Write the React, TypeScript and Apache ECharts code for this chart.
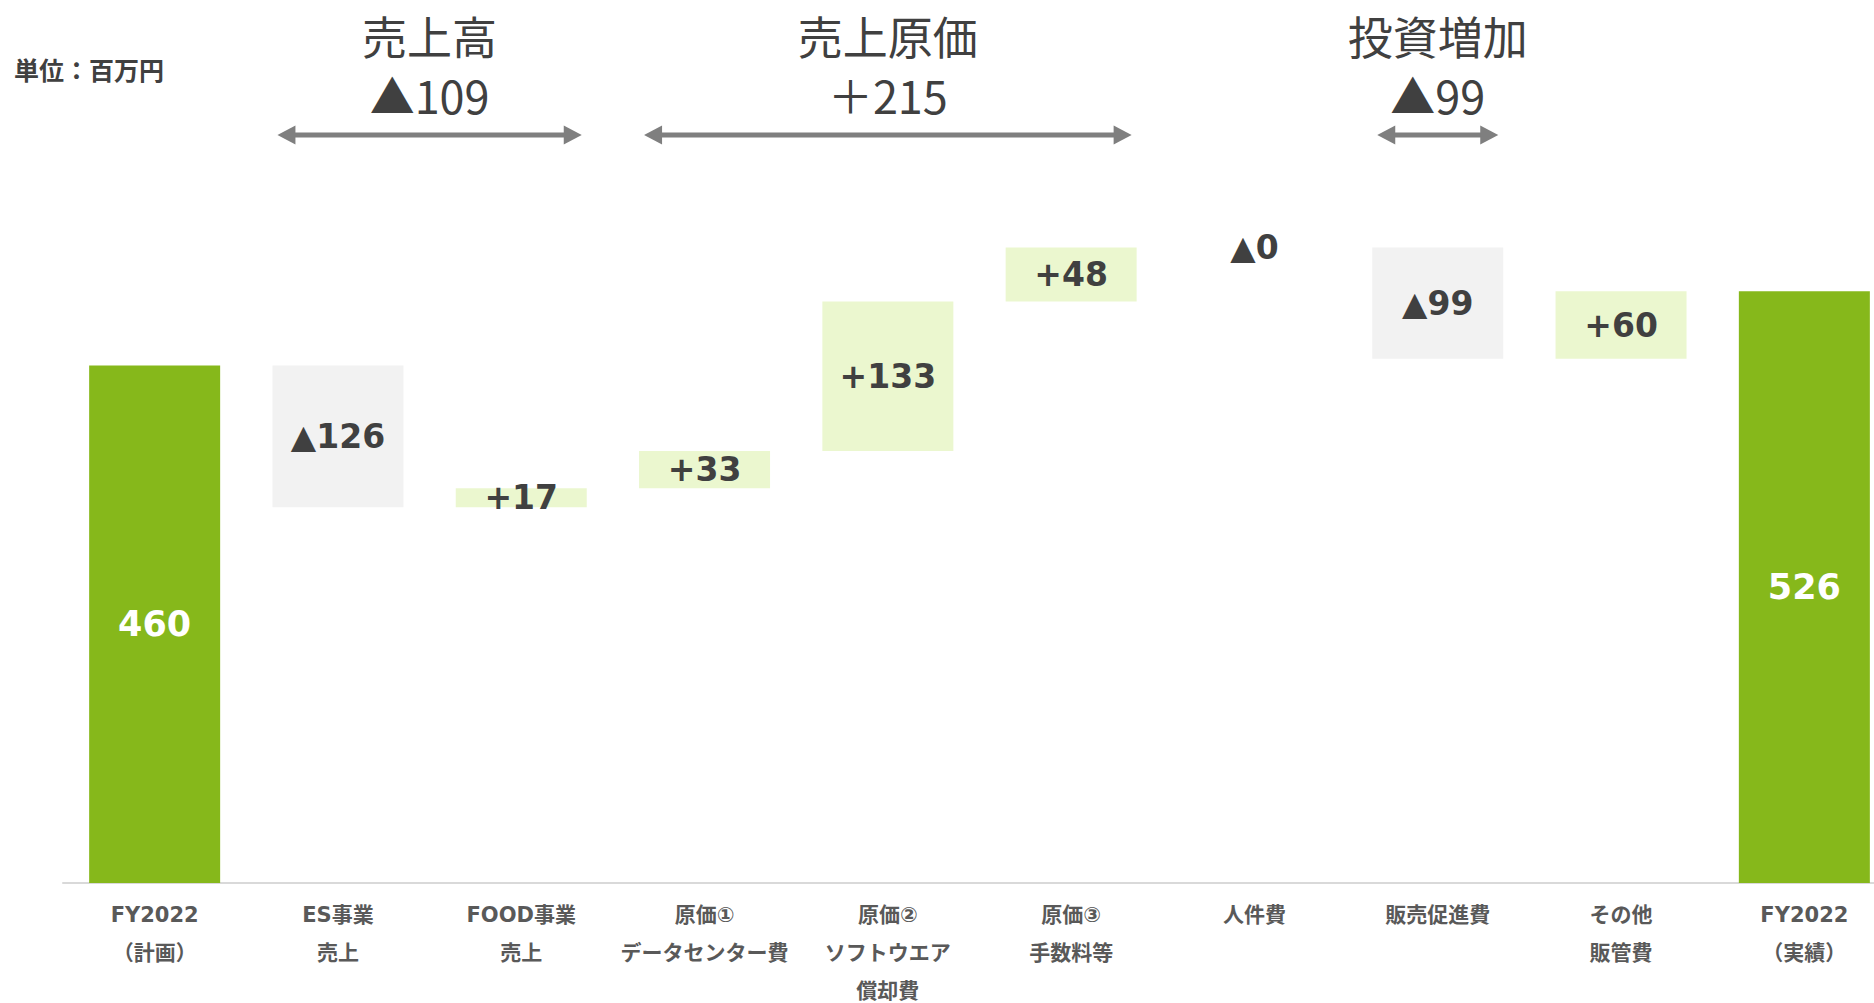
import React, { useEffect, useRef } from "react";
import * as echarts from "echarts";

const categories = [
  "FY2022\n（計画）",
  "ES事業\n売上",
  "FOOD事業\n売上",
  "原価①\nデータセンター費",
  "原価②\nソフトウエア\n償却費",
  "原価③\n手数料等",
  "人件費",
  "販売促進費",
  "その他\n販管費",
  "FY2022\n（実績）",
];
// change per step; totals are full values
const values = [460, -126, 17, 33, 133, 48, 0, -99, 60, 526];
const isTotal = [true, false, false, false, false, false, false, false, false, true];

const groupTitles = ["売上高", "売上原価", "投資増加"];
const groupValues = ["▲109", "＋215", "▲99"];
const groupFrom = [1, 3, 7];
const groupTo = [2, 5, 7];

const GREEN = "#86B81B";
const PALE = "#EBF7CF";
const GREY = "#F2F2F2";
const TEXT = "#404040";
const BAR_W = 131;

export default function App() {
  const ref = useRef<HTMLDivElement>(null);
  useEffect(() => {
    if (!ref.current) return;
    const chart = echarts.init(ref.current, undefined, { renderer: "svg" });

    const base: number[] = [];
    const heights: any[] = [];
    let running = 0;
    values.forEach((v, i) => {
      if (isTotal[i]) {
        base.push(0);
        running = v;
        heights.push({
          value: v,
          itemStyle: { color: GREEN },
          label: { formatter: String(v), color: "#FFFFFF", fontSize: 35 },
        });
        return;
      }
      let label: string;
      let color: string;
      if (v > 0) {
        base.push(running);
        running += v;
        label = "+" + v;
        color = PALE;
      } else {
        running += v;
        base.push(running);
        label = "▲" + Math.abs(v);
        color = GREY;
      }
      heights.push({ value: Math.abs(v), itemStyle: { color }, label: { formatter: label, color: TEXT } });
    });

    chart.setOption({
      animation: false,
      grid: { left: 63, right: 0, top: 208, bottom: 120, outerBoundsMode: "none", containLabel: false },
      xAxis: {
        type: "category",
        data: categories,
        axisLine: { show: true, lineStyle: { color: "#D9D9D9", width: 2 } },
        axisTick: { show: false },
        axisLabel: {
          interval: 0,
          margin: 13,
          color: "#595959",
          fontSize: 21,
          fontWeight: "bold",
          lineHeight: 38,
          fontFamily: "'DejaVu Sans', 'Noto Sans CJK JP', sans-serif",
          verticalAlign: "top",
        },
      },
      yAxis: {
        type: "value",
        min: 0,
        max: 600,
        show: false,
        splitLine: { show: false },
      },
      series: [
        {
          type: "bar",
          stack: "wf",
          data: base,
          barWidth: BAR_W,
          itemStyle: { color: "transparent" },
          silent: true,
        },
        {
          type: "bar",
          stack: "wf",
          data: heights,
          barWidth: BAR_W,
          label: {
            show: true,
            position: "inside",
            fontSize: 33,
            fontWeight: "bold",
            fontFamily: "'DejaVu Sans', 'Noto Sans CJK JP', sans-serif",
          },
        },
      ],
    });

    const graphics: any[] = [
      {
        type: "text",
        left: 14,
        top: 56,
        style: {
          text: "単位：百万円",
          fontSize: 25,
          fontWeight: "bold",
          fill: TEXT,
          fontFamily: "'Noto Sans CJK JP', sans-serif",
        },
      },
    ];
    const arrowY = 135;
    const head = 18;
    const half = 9.5;
    groupTitles.forEach((t, g) => {
      const c1 = chart.convertToPixel({ xAxisIndex: 0 }, groupFrom[g]) as number;
      const c2 = chart.convertToPixel({ xAxisIndex: 0 }, groupTo[g]) as number;
      const x1 = c1 - BAR_W / 2 + 5;
      const x2 = c2 + BAR_W / 2 - 5;
      const cx = (x1 + x2) / 2;
      graphics.push(
        {
          type: "line",
          shape: { x1: x1 + head - 2, y1: arrowY, x2: x2 - head + 2, y2: arrowY },
          style: { stroke: "#7F7F7F", lineWidth: 5 },
        },
        {
          type: "polygon",
          shape: { points: [[x1, arrowY], [x1 + head, arrowY - half], [x1 + head, arrowY + half]] },
          style: { fill: "#7F7F7F" },
        },
        {
          type: "polygon",
          shape: { points: [[x2, arrowY], [x2 - head, arrowY - half], [x2 - head, arrowY + half]] },
          style: { fill: "#7F7F7F" },
        },
        {
          type: "text",
          x: cx,
          y: 35,
          style: {
            text: t,
            fontSize: 45,
            fill: TEXT,
            align: "center",
            verticalAlign: "middle",
            fontFamily: "'Noto Sans CJK JP', sans-serif",
          },
        },
        {
          type: "text",
          x: cx,
          y: 94,
          style: {
            text: groupValues[g],
            fontSize: 45,
            fill: TEXT,
            align: "center",
            verticalAlign: "middle",
            fontFamily: "'Noto Sans CJK JP', sans-serif",
          },
        }
      );
    });
    chart.setOption({ graphic: graphics });

    return () => chart.dispose();
  }, []);
  return (
    <div
      style={{ position: "absolute", left: 0, top: 0, width: 1874, height: 1003, overflow: "hidden" }}
    >
      <div ref={ref} style={{ position: "absolute", left: 0, top: 0, width: 1896, height: 1003 }} />
    </div>
  );
}
